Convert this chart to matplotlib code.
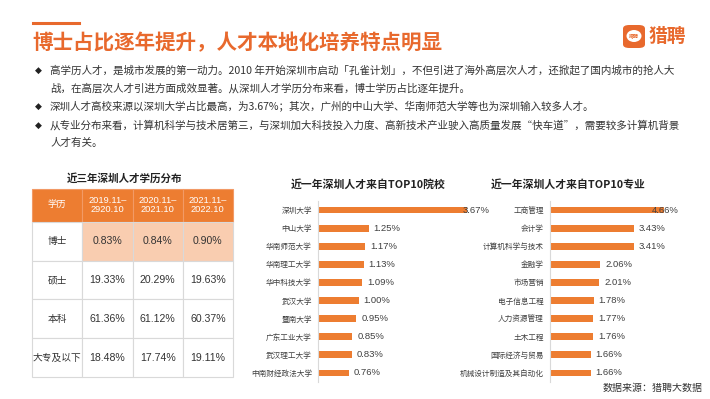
import numpy as np
import pandas as pd
import matplotlib
matplotlib.use("Agg")
import matplotlib.pyplot as plt
from matplotlib.patches import FancyBboxPatch, Ellipse

plt.rcParams['font.family'] = ['Noto Sans CJK SC', 'DejaVu Sans']
NUM_FONT = ['Liberation Sans', 'Noto Sans CJK SC']

ORANGE = '#ED7D31'
TITLE_ORANGE = '#E8692D'
PEACH = '#F9CDB0'
DARK = '#333333'
GRID = '#D9D9D9'

# ---- data ----
title = "博士占比逐年提升，人才本地化培养特点明显"
bullets = [
    ["高学历人才，是城市发展的第一动力。2010 年开始深圳市启动「孔雀计划」，不但引进了海外高层次人才，还掀起了国内城市的抢人大",
     "战，在高层次人才引进方面成效显著。从深圳人才学历分布来看，博士学历占比逐年提升。"],
    ["深圳人才高校来源以深圳大学占比最高，为3.67%；其次，广州的中山大学、华南师范大学等也为深圳输入较多人才。"],
    ["从专业分布来看，计算机科学与技术居第三，与深圳加大科技投入力度、高新技术产业驶入高质量发展“快车道”，需要较多计算机背景",
     "人才有关。"],
]

table_title = "近三年深圳人才学历分布"
table_header = ["学历", "2019.11–\n2920.10", "2020.11–\n2021.10", "2021.11–\n2022.10"]
degrees = ["博士", "硕士", "本科", "大专及以下"]
share_2020 = [0.83, 19.33, 61.36, 18.48]
share_2021 = [0.84, 20.29, 61.12, 17.74]
share_2022 = [0.90, 19.63, 60.37, 19.11]

school_title = "近一年深圳人才来自TOP10院校"
schools = ["深圳大学", "中山大学", "华南师范大学", "华南理工大学", "华中科技大学",
           "武汉大学", "暨南大学", "广东工业大学", "武汉理工大学", "中南财经政法大学"]
school_pct = [3.67, 1.25, 1.17, 1.13, 1.09, 1.00, 0.95, 0.85, 0.83, 0.76]

major_title = "近一年深圳人才来自TOP10专业"
majors = ["工商管理", "会计学", "计算机科学与技术", "金融学", "市场营销",
          "电子信息工程", "人力资源管理", "土木工程", "国际经济与贸易", "机械设计制造及其自动化"]
major_pct = [4.66, 3.43, 3.41, 2.06, 2.01, 1.78, 1.77, 1.76, 1.66, 1.66]

source = "数据来源：猎聘大数据"

W, H = 710, 399
fig = plt.figure(figsize=(W / 100, H / 100), dpi=100)
fig.patch.set_facecolor('white')


def fx(x):
    return x / W


def fy(y):
    return 1 - y / H


def box(x0, y0, x1, y1):
    return [fx(x0), fy(y1), fx(x1) - fx(x0), fy(y0) - fy(y1)]


# ---- header ----
fig.add_artist(plt.Line2D([fx(33), fx(79)], [fy(23), fy(23)], color=TITLE_ORANGE, lw=2.2))
fig.text(fx(32), fy(42.5), title, fontsize=14.8, weight='bold', color=TITLE_ORANGE, va='center')

# logo: rounded square with white speech bubble
logo = FancyBboxPatch((fx(623), fy(48)), fx(22), fy(25) - fy(48),
                      boxstyle="round,pad=0,rounding_size=0.009",
                      transform=fig.transFigure, fc=TITLE_ORANGE, ec='none')
fig.add_artist(logo)
fig.add_artist(Ellipse((fx(634), fy(36)), fx(15), fy(0) - fy(12),
                       transform=fig.transFigure, fc='white', ec='none'))
fig.text(fx(634), fy(36), "猎聘", fontsize=3.6, color=TITLE_ORANGE, ha='center', va='center',
         weight='bold')
fig.text(fx(649), fy(37), "猎聘", fontsize=13.5, color=TITLE_ORANGE, weight='bold', va='center')

# ---- bullets ----
y = 70.5
for para in bullets:
    fig.text(fx(38), fy(y), "◆", fontsize=6.5, color='#222222', ha='center', va='center',
             family='DejaVu Sans')
    for line in para:
        fig.text(fx(50), fy(y), line, fontsize=7.6, color=DARK, va='center')
        y += 17.3
    y += 1.5

# ---- table ----
fig.text(fx(125), fy(178), table_title, fontsize=7.6, weight='bold', color='#222222',
         ha='center', va='center')
ax_t = fig.add_axes(box(32, 189, 233, 377))
ax_t.axis('off')
cells = [[d, f"{a:.2f}%", f"{b:.2f}%", f"{c:.2f}%"]
         for d, a, b, c in zip(degrees, share_2020, share_2021, share_2022)]
tbl = ax_t.table(cellText=[table_header] + cells, cellLoc='center', bbox=[0, 0, 1, 1])
tbl.auto_set_font_size(False)
for (r, c), cell in tbl.get_celld().items():
    cell.set_height(33 if r == 0 else 39)
    cell.set_edgecolor(GRID)
    cell.set_linewidth(0.8)
    txt = cell.get_text()
    if r == 0:
        cell.set_facecolor(ORANGE)
        cell.set_edgecolor('#F29A66')
        txt.set_color('white')
        txt.set_fontsize(6.7)
        txt.set_linespacing(1.0)
        if c > 0:
            txt.set_family(NUM_FONT)
    else:
        txt.set_color(DARK)
        if c == 0:
            txt.set_fontsize(7.0)
        else:
            txt.set_fontsize(7.6)
            txt.set_family(NUM_FONT)
        if r == 1 and c > 0:
            cell.set_facecolor(PEACH)


# ---- bar charts ----
def bar_chart(x_axis, x_right, names, vals, px_per_pct, ttl, ttl_x, top_shift):
    ax = fig.add_axes(box(x_axis, 201, x_right, 382))
    ax.set_xlim(0, (x_right - x_axis) / px_per_pct)
    pos = np.arange(len(names))
    ax.barh(pos, vals, height=0.38, color=ORANGE)
    ax.set_ylim(len(names) - 0.5, -0.5)
    ax.set_yticks(pos)
    ax.set_yticklabels(names, fontsize=5.5, color='#404040')
    ax.tick_params(axis='y', length=0, pad=4.5)
    ax.set_xticks([])
    for s in ['top', 'right', 'bottom']:
        ax.spines[s].set_visible(False)
    ax.spines['left'].set_color(GRID)
    ax.spines['left'].set_linewidth(0.8)
    for i, v in enumerate(vals):
        off = top_shift if v == max(vals) else 3.6
        ax.annotate(f"{v:.2f}%", (v, i), xytext=(off, 0), textcoords='offset points',
                    ha='left', va='center', fontsize=6.8, color='#404040', family=NUM_FONT)
    ax.patch.set_alpha(0)
    fig.text(fx(ttl_x), fy(184), ttl, fontsize=7.8, weight='bold', color='#222222',
             ha='center', va='center')
    return ax


bar_chart(318, 470, schools, school_pct, 40.5, school_title, 368, -3)
bar_chart(550, 700, majors, major_pct, 24.5, major_title, 568, -9)

fig.text(fx(703), fy(388), source, fontsize=7.2, color=DARK, ha='right', va='center')

fig.savefig("out.png", dpi=100, facecolor='white')
